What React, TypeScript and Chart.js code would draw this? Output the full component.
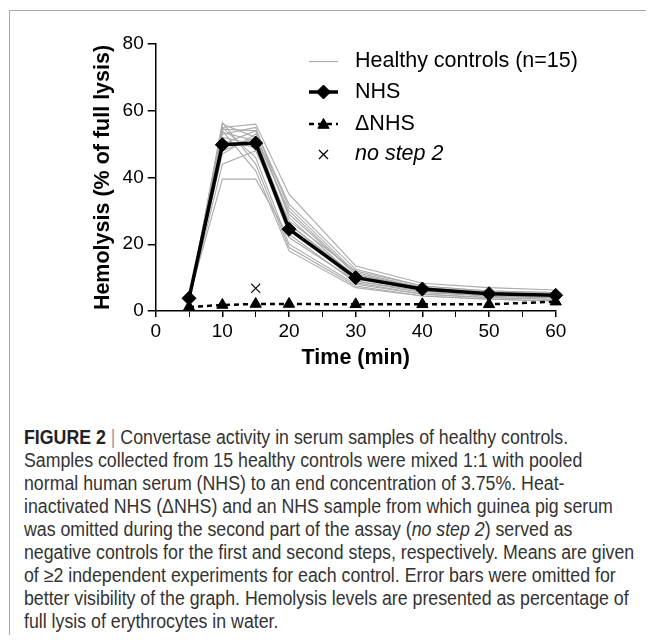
import React, { useEffect, useRef } from 'react';
import { Chart, registerables } from 'chart.js';
import { drawPoint } from 'chart.js/helpers';

Chart.register(...registerables);

// ---- data ----
const timePoints = [5, 10, 15, 20, 30, 40, 50, 60];
const nhs = [3.8, 49.8, 50.3, 24.5, 10, 6.6, 5.2, 4.7];
const deltaNhs = [1.2, 1.8, 2.1, 2.1, 2, 2, 2, 2.8];
const noStep2Time = [15];
const noStep2 = [6.8];
const healthyControls = [
  [3, 56, 52, 30, 11, 7, 5.5, 5],
  [3.5, 55, 56, 35, 13.5, 8.3, 7, 6.3],
  [3, 53, 55, 28, 10, 6.5, 5, 4.5],
  [4, 39.5, 39.5, 22, 9, 6, 4.5, 4],
  [3, 44, 48, 26, 10.5, 7, 5, 4.5],
  [3.5, 54, 42, 18, 7, 4.5, 3.5, 3],
  [3, 52, 50, 27, 12, 7.5, 6, 5.5],
  [3.5, 50, 54, 32, 12.5, 7.5, 6, 5.5],
  [3, 55, 46, 20, 8, 5, 4, 3.5],
  [4, 47, 53, 29, 11, 6.5, 5, 4.5],
  [3, 53.5, 51, 25, 9, 5.5, 4.5, 4],
  [3.5, 51, 49, 23, 8.5, 5, 4, 3.5],
  [3, 54.5, 54, 31, 11.5, 7, 5.5, 5],
  [3.5, 48, 52, 26, 10, 6, 4.5, 4],
  [3, 56.5, 44, 19, 7.5, 4.5, 3.5, 3],
];
const xTickLabels = ['0', '10', '20', '30', '40', '50', '60'];
const yTickLabels = ['0', '20', '40', '60', '80'];
const legendLabels = ['Healthy controls (n=15)', 'NHS', '\u0394NHS', 'no step 2'];

const FONT = '"Liberation Sans", Arial, Helvetica, sans-serif';
const GREY = '#ababab';

const toPoints = (ys: number[], xs: number[] = timePoints) => xs.map((x, i) => ({ x, y: ys[i] }));

const legendPlugin = {
  id: 'figLegend',
  afterDraw(chart: any) {
    const ctx: CanvasRenderingContext2D = chart.ctx;
    const x0 = 301;
    const x1 = 330;
    const xm = (x0 + x1) / 2;
    const tx = 347;
    const rows = [53.5, 84, 116, 146.5];
    ctx.save();
    const seg = (y: number) => {
      ctx.beginPath();
      ctx.moveTo(x0, y);
      ctx.lineTo(x1, y);
      ctx.stroke();
    };
    ctx.strokeStyle = GREY;
    ctx.lineWidth = 1.2;
    seg(rows[0]);
    ctx.strokeStyle = '#000';
    ctx.fillStyle = '#000';
    ctx.lineWidth = 3.5;
    seg(rows[1]);
    ctx.lineWidth = 1;
    drawPoint(ctx, { pointStyle: 'rectRot', radius: 7, borderWidth: 1, rotation: 0 } as any, xm, rows[1]);
    ctx.lineWidth = 2.5;
    ctx.setLineDash([5, 4]);
    seg(rows[2]);
    ctx.setLineDash([]);
    ctx.lineWidth = 1;
    drawPoint(ctx, { pointStyle: 'triangle', radius: 6.5, borderWidth: 1, rotation: 0 } as any, xm, rows[2] + 1);
    ctx.lineWidth = 1.2;
    drawPoint(ctx, { pointStyle: 'crossRot', radius: 6.4, borderWidth: 1.2, rotation: 0 } as any, xm, rows[3]);
    ctx.fillStyle = '#000';
    ctx.textBaseline = 'middle';
    ctx.textAlign = 'left';
    ctx.font = `21.5px ${FONT}`;
    ctx.fillText(legendLabels[0], tx, rows[0]);
    ctx.fillText(legendLabels[1], tx, rows[1]);
    ctx.fillText(legendLabels[2], tx, rows[2]);
    ctx.font = `italic 21.5px ${FONT}`;
    ctx.fillText(legendLabels[3], tx, rows[3]);
    ctx.restore();
  },
};

function HemolysisChart() {
  const ref = useRef<HTMLCanvasElement | null>(null);
  useEffect(() => {
    if (!ref.current) return;
    const healthySets = healthyControls.map((vals, i) => ({
      label: `HC${i + 1}`,
      data: toPoints(vals),
      borderColor: GREY,
      borderWidth: 1.1,
      pointRadius: 0,
      fill: false,
      tension: 0,
      order: 10 + i,
      clip: false as any,
    }));
    const chart = new Chart(ref.current, {
      type: 'line',
      data: {
        datasets: [
          {
            label: legendLabels[3],
            data: toPoints(noStep2, noStep2Time),
            showLine: false,
            pointStyle: 'crossRot',
            pointRadius: 6.4,
            pointBorderWidth: 1.2,
            pointBorderColor: '#111',
            pointBackgroundColor: '#111',
            borderColor: '#111',
            order: 0,
            clip: false as any,
          },
          {
            label: legendLabels[2],
            data: toPoints(deltaNhs),
            borderColor: '#000',
            borderWidth: 2.5,
            borderDash: [5, 4],
            pointStyle: 'triangle',
            pointRadius: 6.5,
            pointBorderWidth: 1,
            pointBackgroundColor: '#000',
            pointBorderColor: '#000',
            tension: 0,
            order: 1,
            clip: false as any,
          },
          {
            label: legendLabels[1],
            data: toPoints(nhs),
            borderColor: '#000',
            borderWidth: 3.5,
            pointStyle: 'rectRot',
            pointRadius: 7,
            pointBorderWidth: 1,
            pointBackgroundColor: '#000',
            pointBorderColor: '#000',
            tension: 0,
            order: 2,
            clip: false as any,
          },
          ...healthySets,
        ] as any,
      },
      options: {
        animation: false,
        responsive: false,
        maintainAspectRatio: false,
        events: [],
        layout: { padding: { left: 0, top: 36, right: 98.3, bottom: 7 } },
        plugins: { legend: { display: false }, tooltip: { enabled: false }, title: { display: false } },
        scales: {
          x: {
            type: 'linear',
            min: 0,
            max: 60,
            afterFit: (s: any) => {
              s.height = 70;
            },
            ticks: {
              stepSize: 5,
              autoSkip: false,
              maxRotation: 0,
              minRotation: 0,
              padding: 3,
              color: '#000',
              font: { family: FONT, size: 19 },
              callback: (v: any) => {
                const idx = xTickLabels.indexOf(String(v));
                return idx >= 0 ? xTickLabels[idx] : '';
              },
            },
            grid: {
              drawOnChartArea: false,
              drawTicks: true,
              tickLength: 6,
              color: '#000',
              lineWidth: (c: any) => (c.tick && c.tick.value % 10 === 0 ? 1.5 : 1),
            },
            border: { display: true, color: '#000', width: 1.5 },
            title: {
              display: true,
              text: 'Time (min)',
              color: '#000',
              font: { family: FONT, size: 21.5, weight: 'bold' },
              padding: { top: 0, bottom: 10 },
            },
          },
          y: {
            type: 'linear',
            min: 0,
            max: 80,
            afterFit: (s: any) => {
              s.width = 147.7;
            },
            ticks: {
              stepSize: 20,
              padding: 4,
              color: '#000',
              font: { family: FONT, size: 19 },
              callback: (v: any) => {
                const idx = yTickLabels.indexOf(String(v));
                return idx >= 0 ? yTickLabels[idx] : '';
              },
            },
            grid: {
              drawOnChartArea: false,
              drawTicks: true,
              tickLength: 8,
              color: '#000',
              lineWidth: 1.5,
            },
            border: { display: true, color: '#000', width: 1.5 },
            title: {
              display: true,
              text: 'Hemolysis (% of full lysis)',
              color: '#000',
              font: { family: FONT, size: 21.5, weight: 'bold' },
              padding: { top: 82, bottom: 0 },
            },
          },
        },
      } as any,
      plugins: [legendPlugin],
    });
    return () => chart.destroy();
  }, []);
  return (
    <canvas
      ref={ref}
      width={646}
      height={380}
      style={{ position: 'absolute', left: 0, top: 0, width: 646, height: 380 }}
    />
  );
}

const captionLine: React.CSSProperties = { whiteSpace: 'nowrap', display: 'block' };

export default function App() {
  return (
    <div style={{ position: 'relative', width: 646, height: 627, overflow: 'visible' }}>
      <div
        style={{
          position: 'absolute',
          left: 1,
          top: 2,
          width: 645,
          height: 633,
          boxSizing: 'border-box',
          borderTop: '1.5px solid #a8a8a8',
          borderLeft: '1.5px solid #a8a8a8',
        }}
      />
      <HemolysisChart />
      <div
        style={{
          position: 'absolute',
          left: 16,
          top: 417.5,
          fontFamily: FONT,
          fontSize: 19.5,
          lineHeight: '23px',
          color: '#333',
          transform: 'scaleX(0.91)',
          transformOrigin: '0 0',
        }}
      >
        <span style={captionLine}>
          <b style={{ color: '#222' }}>FIGURE 2</b> <span style={{ color: '#999' }}>|</span> Convertase activity in serum samples of healthy controls.
        </span>
        <span style={captionLine}>Samples collected from 15 healthy controls were mixed 1:1 with pooled</span>
        <span style={captionLine}>normal human serum (NHS) to an end concentration of 3.75%. Heat-</span>
        <span style={captionLine}>inactivated NHS (ΔNHS) and an NHS sample from which guinea pig serum</span>
        <span style={captionLine}>
          was omitted during the second part of the assay (<i>no step 2</i>) served as
        </span>
        <span style={captionLine}>negative controls for the first and second steps, respectively. Means are given</span>
        <span style={captionLine}>of ≥2 independent experiments for each control. Error bars were omitted for</span>
        <span style={captionLine}>better visibility of the graph. Hemolysis levels are presented as percentage of</span>
        <span style={captionLine}>full lysis of erythrocytes in water.</span>
      </div>
    </div>
  );
}
